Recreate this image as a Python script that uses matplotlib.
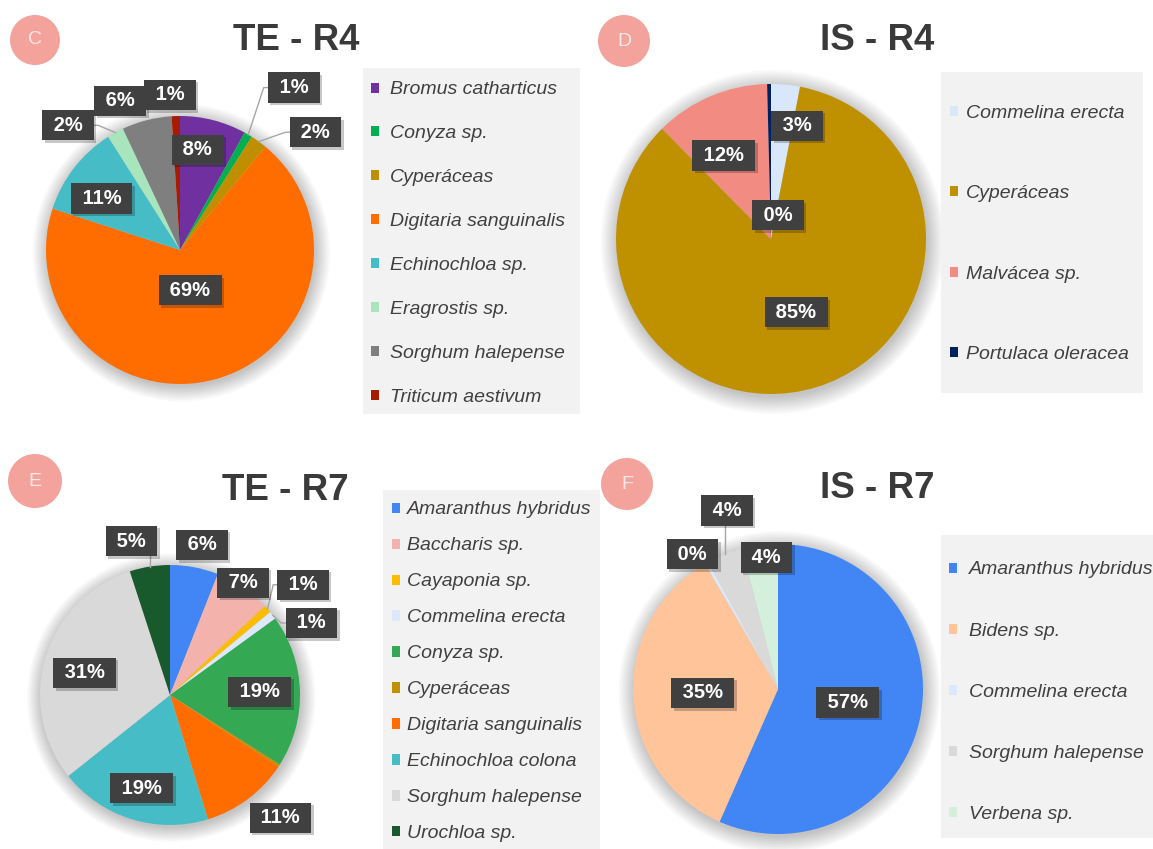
import matplotlib
matplotlib.use("Agg")
import matplotlib.pyplot as plt
import matplotlib.transforms as mtransforms
from matplotlib.patches import Circle, Rectangle, Patch
from matplotlib import font_manager
import numpy as np

W, H, DPI = 1153, 849, 100

# ---- datos ----
c_species = ["Bromus catharticus", "Conyza sp.", "Cyperáceas", "Digitaria sanguinalis",
             "Echinochloa sp.", "Eragrostis sp.", "Sorghum halepense", "Triticum aestivum"]
c_values = [8, 1, 2, 69, 11, 2, 6, 1]
c_colors = ["#7030A0", "#00B050", "#BF8F00", "#FF6D01", "#46BDC6", "#A8E4BC", "#7F7F7F", "#A61C00"]

d_species = ["Commelina erecta", "Cyperáceas", "Malvácea sp.", "Portulaca oleracea"]
d_values = [3.0, 84.6, 12.0, 0.4]
d_colors = ["#D9E7FB", "#BF9000", "#F28B82", "#002060"]

e_species = ["Amaranthus hybridus", "Baccharis sp.", "Cayaponia sp.", "Commelina erecta",
             "Conyza sp.", "Cyperáceas", "Digitaria sanguinalis", "Echinochloa colona",
             "Sorghum halepense", "Urochloa sp."]
e_values = [6, 7, 1, 1, 19, 0.3, 11, 19, 30.7, 5]
e_colors = ["#4285F4", "#F4B2AD", "#FBBC04", "#DCE8FB", "#34A853", "#BF9000",
            "#FF6D01", "#46BDC6", "#D9D9D9", "#185A2B"]

f_species = ["Amaranthus hybridus", "Bidens sp.", "Commelina erecta", "Sorghum halepense", "Verbena sp."]
f_values = [56.6, 35, 0.4, 4, 4]
f_colors = ["#4285F4", "#FFC499", "#DCE8FB", "#D9D9D9", "#D4F0DD"]

# posicion de etiquetas: radio, desvio angular, linea guia
c_lab = dict(r=[0.76, 1.48, 1.34, 0.31, 0.70, 1.25, 1.20, 1.16],
             dt=[4.4, -4.4, -13, -2.2, 4.4, 13.1, 7.4, 1.9],
             lead=[0, 1, 1, 0, 0, 1, 0, 0])
d_lab = dict(r=[0.75, 0.50, 0.62, 0.16], dt=[-7.6, 2.1, 6.5, -16.7], lead=[0, 0, 0, 0])
e_lab = dict(r=[1.18, 1.03, 1.33, 1.22, 0.69, 0, 1.27, 0.75, 0.68, 1.22],
             dt=[-1.2, 1.2, -1.8, -10.8, 0.2, 0, 5.3, 0.5, 2.3, 5.0],
             lead=[0, 0, 1, 1, 0, 0, 0, 0, 0, 1], hide=[5])
f_lab = dict(r=[0.49, 0.52, 1.10, 1.28, 0.91], dt=[0.9, -0.2, 2.9, -5.6, -2.2], lead=[0, 0, 0, 1, 0])

installed = {f.name for f in font_manager.fontManager.ttflist}
NARROW = "Liberation Sans Narrow" if "Liberation Sans Narrow" in installed else "Liberation Sans"
plt.rcParams['font.family'] = ['Liberation Sans', 'DejaVu Sans']

fig = plt.figure(figsize=(W / DPI, H / DPI), dpi=DPI)
fig.patch.set_facecolor("white")
TXT = "#404040"


def fx(x):
    return x / W


def fy(y):
    return 1 - y / H


def panel(letter, title, title_xy, circ, species, values, colors, lab, center, R, leg):
    # circulo con letra
    cx, cy, cr = circ
    fig.add_artist(Circle((cx / DPI, (H - cy) / DPI), cr / DPI, transform=fig.dpi_scale_trans,
                          facecolor="#F4A29C", edgecolor="none"))
    fig.text(fx(cx), fy(cy), letter, color="#FCE8E6", fontsize=14, ha="center", va="center")
    fig.text(fx(title_xy[0]), fy(title_xy[1]), title, fontsize=26.5, fontweight="bold",
             color="#3A3A3A", ha="center", va="center")

    # torta
    k = 1.75
    px, py = center
    ax = fig.add_axes([fx(px - R * k), (H - py - R * k) / H, 2 * R * k / W, 2 * R * k / H])
    for i in range(12):
        ax.add_patch(Circle((0.01, -0.02), 1.0 + i * 0.01, facecolor="#000000",
                            alpha=0.018, edgecolor="none", zorder=0))
    wedges, _ = ax.pie(values, colors=colors, startangle=90, counterclock=False, radius=1,
                       wedgeprops=dict(linewidth=0, zorder=2))
    ax.set_xlim(-k, k)
    ax.set_ylim(-k, k)
    ax.axis("off")
    tot = sum(values)
    hide = lab.get("hide", [])
    shadow_tr = mtransforms.offset_copy(ax.transData, fig=fig, x=2.5, y=-2.5, units="dots")
    hw, hh = 24 / R, 15 / R
    for i, w in enumerate(wedges):
        if i in hide:
            continue
        mid = np.deg2rad((w.theta1 + w.theta2) / 2)
        ang = mid + np.deg2rad(lab["dt"][i])
        lx, ly = lab["r"][i] * np.cos(ang), lab["r"][i] * np.sin(ang)
        s = " %d%% " % round(values[i] / tot * 100)
        kw = dict(ha="center", va="center", fontsize=14.5, fontweight="bold", family=NARROW)
        ax.text(lx, ly, s, transform=shadow_tr, color="none", zorder=4,
                bbox=dict(boxstyle="square,pad=0.28", fc=(0, 0, 0, 0.22), ec="none"), **kw)
        ax.text(lx, ly, s, color="white", zorder=5,
                bbox=dict(boxstyle="square,pad=0.28", fc="#404040", ec="none"), **kw)
        if lab["lead"][i]:
            rx, ry = np.cos(mid), np.sin(mid)
            if abs(rx - lx) < hw:
                xs, ys = [rx, rx], [ry, ly - hh]
            elif lx > rx:
                xs, ys = [rx, lx - hw - 6 / R, lx - hw], [ry, ly, ly]
            else:
                xs, ys = [rx, lx + hw + 6 / R, lx + hw], [ry, ly, ly]
            ax.plot(xs, ys, color="#A6A6A6", lw=1, zorder=3)

    # leyenda
    bx0, by0, bx1, by1, mx, tx, y0, pitch = leg
    fig.add_artist(Rectangle((bx0 / DPI, (H - by1) / DPI), (bx1 - bx0) / DPI, (by1 - by0) / DPI,
                             transform=fig.dpi_scale_trans, facecolor="#F2F2F2", edgecolor="none",
                             zorder=0.5))
    fs = 14
    fs_px = fs * DPI / 72
    handles = [Patch(facecolor=c, edgecolor="none") for c in colors]
    fig.legend(handles, species, loc="upper left",
               bbox_to_anchor=(fx(mx), fy(y0 - 6.5)), frameon=False,
               prop=dict(style="italic", size=fs), labelcolor=TXT,
               labelspacing=pitch / fs_px - 0.88, handlelength=0.42, handleheight=0.42,
               handletextpad=(tx - mx) / fs_px - 0.42, borderpad=0, borderaxespad=0)


panel("C", "TE - R4", (296, 40), (35, 40, 25), c_species, c_values, c_colors, c_lab,
      (180, 250), 134, (363, 68, 580, 414, 371, 390, 88, 44))
panel("D", "IS - R4", (877, 40), (624, 41, 26), d_species, d_values, d_colors, d_lab,
      (771, 239), 155, (941, 72, 1143, 393, 950, 966, 111, 80.7))
panel("E", "TE - R7", (285, 491), (35, 481, 27), e_species, e_values, e_colors, e_lab,
      (170, 695), 130, (383, 490, 600, 849, 392, 407, 508, 36.1))
panel("F", "IS - R7", (877, 489), (627, 484, 26), f_species, f_values, f_colors, f_lab,
      (778, 689), 145, (941, 535, 1153, 838, 949, 969, 568, 61.2))

fig.savefig("out.png", dpi=DPI)
